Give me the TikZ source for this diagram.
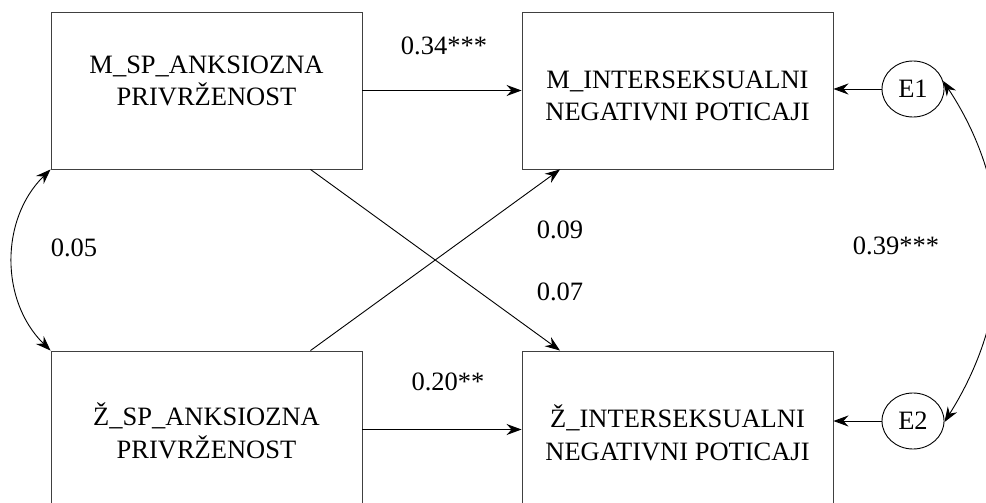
\documentclass[tikz,border=0pt]{standalone}
\usepackage{fontspec}
\setmainfont{Liberation Serif}
\usetikzlibrary{arrows.meta,shapes.geometric}
\begin{document}
\begin{tikzpicture}[x=1pt,y=-1pt,
  box/.style={draw=black!75, line width=0.9pt, minimum width=311pt, minimum height=157pt, inner sep=0pt},
  txt/.style={align=center, font=\fontsize{26.5}{32.5}\selectfont, inner sep=0pt},
  err/.style={draw=black, line width=0.9pt, ellipse, minimum width=62pt, minimum height=56pt, inner sep=0pt, font=\fontsize{26.5}{32}\selectfont},
  lbl/.style={font=\fontsize{26.5}{32}\selectfont, inner sep=0pt},
  tip/.tip={Stealth[length=15pt,width=11pt,inset=5pt]},
  arr/.style={-tip, line width=0.9pt},
  darr/.style={tip-tip, line width=0.9pt}]
\useasboundingbox (0,0) rectangle (986,503);
\node[box] (Ms) at (206.5,90.5) {};
\node[box] (Mi) at (677.5,90.5) {};
\node[box] (Zs) at (206.5,429.5) {};
\node[box] (Zi) at (677.5,429.5) {};
\node[txt] (Mst) at (206.5,81) {M\_SP\_ANKSIOZNA\\PRIVRŽENOST};
\node[txt] (Mit) at (677.5,96) {M\_INTERSEKSUALNI\\NEGATIVNI POTICAJI};
\node[txt] (Zst) at (206.5,431) {Ž\_SP\_ANKSIOZNA\\PRIVRŽENOST};
\node[txt] (Zit) at (677.5,433) {Ž\_INTERSEKSUALNI\\NEGATIVNI POTICAJI};
\node[err] (E1) at (913,89) {E1};
\node[err] (E2) at (913,421) {E2};
\node[lbl] (l34) at (444,46) {0.34***};
\node[lbl] (l20) at (448,382) {0.20**};
\node[lbl] (l09) at (560,230) {0.09};
\node[lbl] (l07) at (560,292) {0.07};
\node[lbl] (l05) at (74,248) {0.05};
\node[lbl] (l39) at (896,246) {0.39***};
\draw[arr] (Ms.east) -- (Mi.west);
\draw[arr] (Zs.east) -- (Zi.west);
\draw[arr] ([xshift=104pt]Ms.south) -- ([xshift=-117.5pt]Zi.north);
\draw[arr] ([xshift=104pt]Zs.north) -- ([xshift=-117.5pt]Mi.south);
\draw[arr] (E1.west) -- (E1.west -| Mi.east);
\draw[arr] (E2.west) -- (E2.west -| Zi.east);
\draw[darr] (Ms.south west) .. controls (0,219) and (0,301) .. (Zs.north west);
\draw[darr] (E1.15) .. controls (1015,190) and (1015,310) .. (E2.-2);
\end{tikzpicture}
\end{document}
